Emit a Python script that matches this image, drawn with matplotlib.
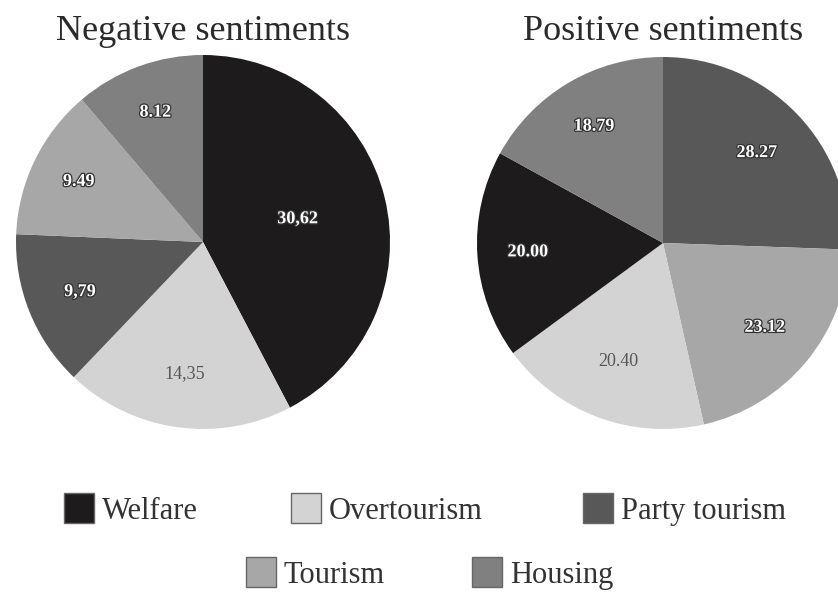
import numpy as np
import matplotlib
matplotlib.use('Agg')
import matplotlib.pyplot as plt
import matplotlib.patheffects as pe
from matplotlib.patches import Rectangle

plt.rcParams['font.family'] = ['Liberation Serif', 'DejaVu Serif']

# Data
categories = ['Welfare', 'Overtourism', 'Party tourism', 'Tourism', 'Housing']
colors = ['#1d1b1c', '#d3d3d3', '#585858', '#a7a7a7', '#808080']

neg_order = ['Welfare', 'Overtourism', 'Party tourism', 'Tourism', 'Housing']
neg_values = [30.62, 14.35, 9.79, 9.49, 8.12]
neg_labels = ['30,62', '14,35', '9,79', '9.49', '8.12']

pos_order = ['Party tourism', 'Tourism', 'Overtourism', 'Welfare', 'Housing']
pos_values = [28.27, 23.12, 20.40, 20.00, 18.79]
pos_labels = ['28.27', '23.12', '20.40', '20.00', '18.79']

W, H = 838, 592
fig = plt.figure(figsize=(W / 100, H / 100), dpi=100)


def DrawPie(cx, cy, r, order, values, labels, radii, title):
    ax = fig.add_axes([(cx - r) / W, (H - cy - r) / H, 2 * r / W, 2 * r / H])
    cols = [colors[categories.index(c)] for c in order]
    wedges, _ = ax.pie(values, colors=cols, startangle=90, counterclock=False,
                       radius=1.0, wedgeprops=dict(linewidth=0))
    for w, lab, rd, c in zip(wedges, labels, radii, order):
        ang = np.deg2rad((w.theta1 + w.theta2) / 2)
        x, y = rd * np.cos(ang), rd * np.sin(ang)
        if c == 'Overtourism':
            ax.text(x, y, lab, ha='center', va='center', fontsize=13,
                    color='#555555')
        else:
            ax.text(x, y, lab, ha='center', va='center', fontsize=13,
                    color='white', fontweight='bold',
                    path_effects=[pe.withStroke(linewidth=1.8,
                                                foreground='#333333')])
    ax.set_xlim(-1, 1)
    ax.set_ylim(-1, 1)
    ax.set_aspect('equal')
    fig.text(cx / W, 1 - 40 / H, title, ha='center', va='baseline',
             fontsize=26, color='#2a2a2a')
    return ax


DrawPie(203, 242, 187, neg_order, neg_values, neg_labels,
        [0.52, 0.71, 0.71, 0.74, 0.74], 'Negative sentiments')
DrawPie(663, 243, 186, pos_order, pos_values, pos_labels,
        [0.70, 0.71, 0.68, 0.73, 0.73], 'Positive sentiments')

# Legend
legend_pos = [(64, 508), (291, 508), (583, 508), (246, 572), (472, 572)]
for cat, (lx, ly) in zip(categories, legend_pos):
    col = colors[categories.index(cat)]
    fig.patches.append(Rectangle((lx / W, (H - ly - 15) / H), 30 / W, 30 / H,
                                 transform=fig.transFigure, facecolor=col,
                                 edgecolor='#666666', linewidth=1.0))
    fig.text((lx + 38) / W, (H - ly - 11) / H, cat, ha='left',
             va='baseline', fontsize=22, color='#333333')

fig.savefig('out.png', dpi=100)
